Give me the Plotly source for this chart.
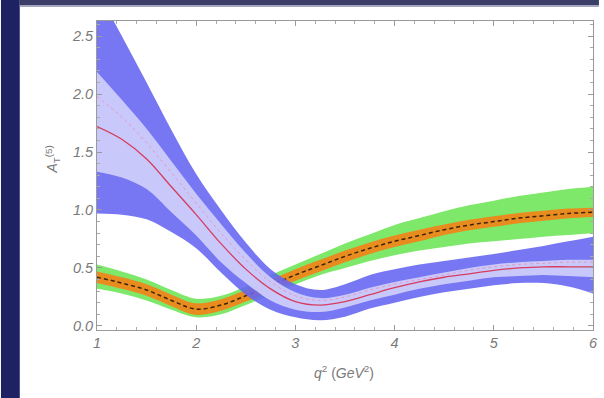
import plotly.graph_objects as go

# q^2 sampling points (GeV^2)
q2 = [1.0, 1.25, 1.5, 1.75, 2.0, 2.25, 2.5, 2.75, 3.0, 3.25, 3.5,
      3.75, 4.0, 4.25, 4.5, 4.75, 5.0, 5.25, 5.5, 5.75, 6.0]

# Model G: outer (green) band, inner (orange) band, central value
g_out_up = [0.53, 0.47, 0.40, 0.31, 0.235, 0.26, 0.34, 0.44, 0.53, 0.62, 0.71,
            0.79, 0.87, 0.93, 0.99, 1.04, 1.08, 1.12, 1.15, 1.18, 1.20]
g_out_lo = [0.32, 0.28, 0.22, 0.14, 0.075, 0.10, 0.18, 0.27, 0.36, 0.44, 0.50,
            0.56, 0.61, 0.65, 0.68, 0.71, 0.73, 0.75, 0.77, 0.785, 0.80]
g_in_up = [0.47, 0.42, 0.36, 0.27, 0.195, 0.23, 0.31, 0.40, 0.49, 0.57, 0.65,
           0.72, 0.78, 0.83, 0.875, 0.915, 0.945, 0.975, 0.993, 1.012, 1.02]
g_in_lo = [0.37, 0.32, 0.26, 0.17, 0.095, 0.13, 0.21, 0.30, 0.39, 0.47, 0.55,
           0.62, 0.68, 0.73, 0.785, 0.825, 0.855, 0.885, 0.907, 0.928, 0.94]
g_mid = [0.42, 0.37, 0.31, 0.22, 0.145, 0.18, 0.26, 0.35, 0.44, 0.52, 0.60,
         0.67, 0.73, 0.78, 0.83, 0.87, 0.90, 0.93, 0.95, 0.97, 0.98]

# Model B: outer (blue) band, inner (lavender) band, central value
b_out_up = [2.90, 2.50, 2.10, 1.69, 1.31, 1.00, 0.72, 0.49, 0.36, 0.31, 0.36,
            0.44, 0.49, 0.53, 0.56, 0.59, 0.62, 0.655, 0.69, 0.73, 0.77]
b_out_lo = [0.97, 0.96, 0.92, 0.81, 0.67, 0.46, 0.27, 0.14, 0.075, 0.05, 0.08,
            0.15, 0.20, 0.25, 0.29, 0.32, 0.35, 0.37, 0.37, 0.34, 0.28]
b_in_up = [2.19, 1.95, 1.70, 1.42, 1.14, 0.88, 0.63, 0.42, 0.29, 0.24, 0.27,
           0.33, 0.38, 0.42, 0.46, 0.50, 0.53, 0.55, 0.56, 0.57, 0.57]
b_in_lo = [1.33, 1.28, 1.18, 0.98, 0.78, 0.55, 0.37, 0.22, 0.14, 0.12, 0.16,
           0.22, 0.27, 0.32, 0.36, 0.39, 0.42, 0.43, 0.44, 0.43, 0.42]
b_mid = [1.72, 1.61, 1.44, 1.20, 0.96, 0.71, 0.49, 0.32, 0.21, 0.18, 0.21,
         0.27, 0.33, 0.38, 0.42, 0.45, 0.48, 0.50, 0.51, 0.51, 0.51]
b_dot = [1.98, 1.80, 1.58, 1.32, 1.06, 0.80, 0.57, 0.38, 0.26, 0.22, 0.25,
         0.31, 0.36, 0.40, 0.44, 0.48, 0.51, 0.53, 0.54, 0.55, 0.55]

x_ticks = [1, 2, 3, 4, 5, 6]
y_ticks = [0.0, 0.5, 1.0, 1.5, 2.0, 2.5]
y_tick_text = ["0.0", "0.5", "1.0", "1.5", "2.0", "2.5"]

fig = go.Figure()


def band(lo, up, color):
    fig.add_trace(go.Scatter(x=q2, y=lo, mode="lines", line=dict(width=0, shape="spline"),
                             hoverinfo="skip", showlegend=False))
    fig.add_trace(go.Scatter(x=q2, y=up, mode="lines", line=dict(width=0, shape="spline"),
                             fill="tonexty", fillcolor=color, hoverinfo="skip",
                             showlegend=False))


band(g_out_lo, g_out_up, "rgb(126,232,106)")
band(g_in_lo, g_in_up, "rgb(232,140,32)")
fig.add_trace(go.Scatter(x=q2, y=g_mid, mode="lines",
                         line=dict(color="rgb(60,35,10)", width=1.5, dash="4px,3px",
                                   shape="spline"),
                         showlegend=False))

band(b_out_lo, b_out_up, "rgba(100,100,242,0.88)")
band(b_in_lo, b_in_up, "rgba(210,208,252,0.9)")
fig.add_trace(go.Scatter(x=q2, y=b_dot, mode="lines",
                         line=dict(color="rgb(235,150,190)", width=1, dash="dot", shape="spline"),
                         showlegend=False))
fig.add_trace(go.Scatter(x=q2, y=b_mid, mode="lines",
                         line=dict(color="rgb(215,60,95)", width=1.3, shape="spline"),
                         showlegend=False))

tick_font = dict(family="Liberation Sans", size=14.5, color="#7a7a7a", style="italic")
axis_common = dict(showline=True, mirror="allticks", linecolor="#9a9a9a", linewidth=1,
                   ticks="inside", ticklen=5, tickcolor="#9a9a9a", showgrid=False,
                   zeroline=False, tickfont=tick_font)

fig.update_xaxes(range=[1, 6], tickvals=x_ticks,
                 minor=dict(ticks="inside", ticklen=3, dtick=0.2, tickcolor="#aaaaaa"),
                 **axis_common)
fig.update_yaxes(range=[-0.035, 2.63], tickvals=y_ticks, ticktext=y_tick_text,
                 minor=dict(ticks="inside", ticklen=3, dtick=0.1, tickcolor="#aaaaaa"),
                 **axis_common)

W, H = 604, 398
ml, mr, mt, mb = 97, 6, 21, 68
pw, ph = W - ml - mr, H - mt - mb


def px(x):
    return (x - ml) / pw


def py(y):
    return (H - mb - y) / ph


fig.update_layout(
    width=W, height=H,
    margin=dict(l=ml, r=mr, t=mt, b=mb),
    plot_bgcolor="white", paper_bgcolor="white",
    shapes=[
        dict(type="rect", xref="paper", yref="paper", x0=px(0), x1=px(19), y0=py(H), y1=py(0),
             fillcolor="#1e2263", line=dict(width=0), layer="above"),
        dict(type="rect", xref="paper", yref="paper", x0=px(19), x1=px(W), y0=py(5), y1=py(0),
             fillcolor="#3a3d66", line=dict(width=0), layer="above"),
        dict(type="rect", xref="paper", yref="paper", x0=px(19), x1=px(W), y0=py(7), y1=py(5),
             fillcolor="#a4a6c0", line=dict(width=0), layer="above"),
    ],
    annotations=[
        dict(text="<i>q</i><sup>2</sup> (<i>GeV</i><sup>2</sup>)", xref="paper", yref="paper",
             x=px(346), y=py(383), showarrow=False,
             font=dict(family="Liberation Sans", size=14, color="#7a7a7a")),
        dict(text="<i>A</i><sub>T</sub><sup>(5)</sup>", xref="paper", yref="paper",
             x=px(40), y=py(160), showarrow=False, textangle=-90,
             font=dict(family="Liberation Sans", size=14, color="#7a7a7a")),
    ],
)

fig.write_html("out.html")
